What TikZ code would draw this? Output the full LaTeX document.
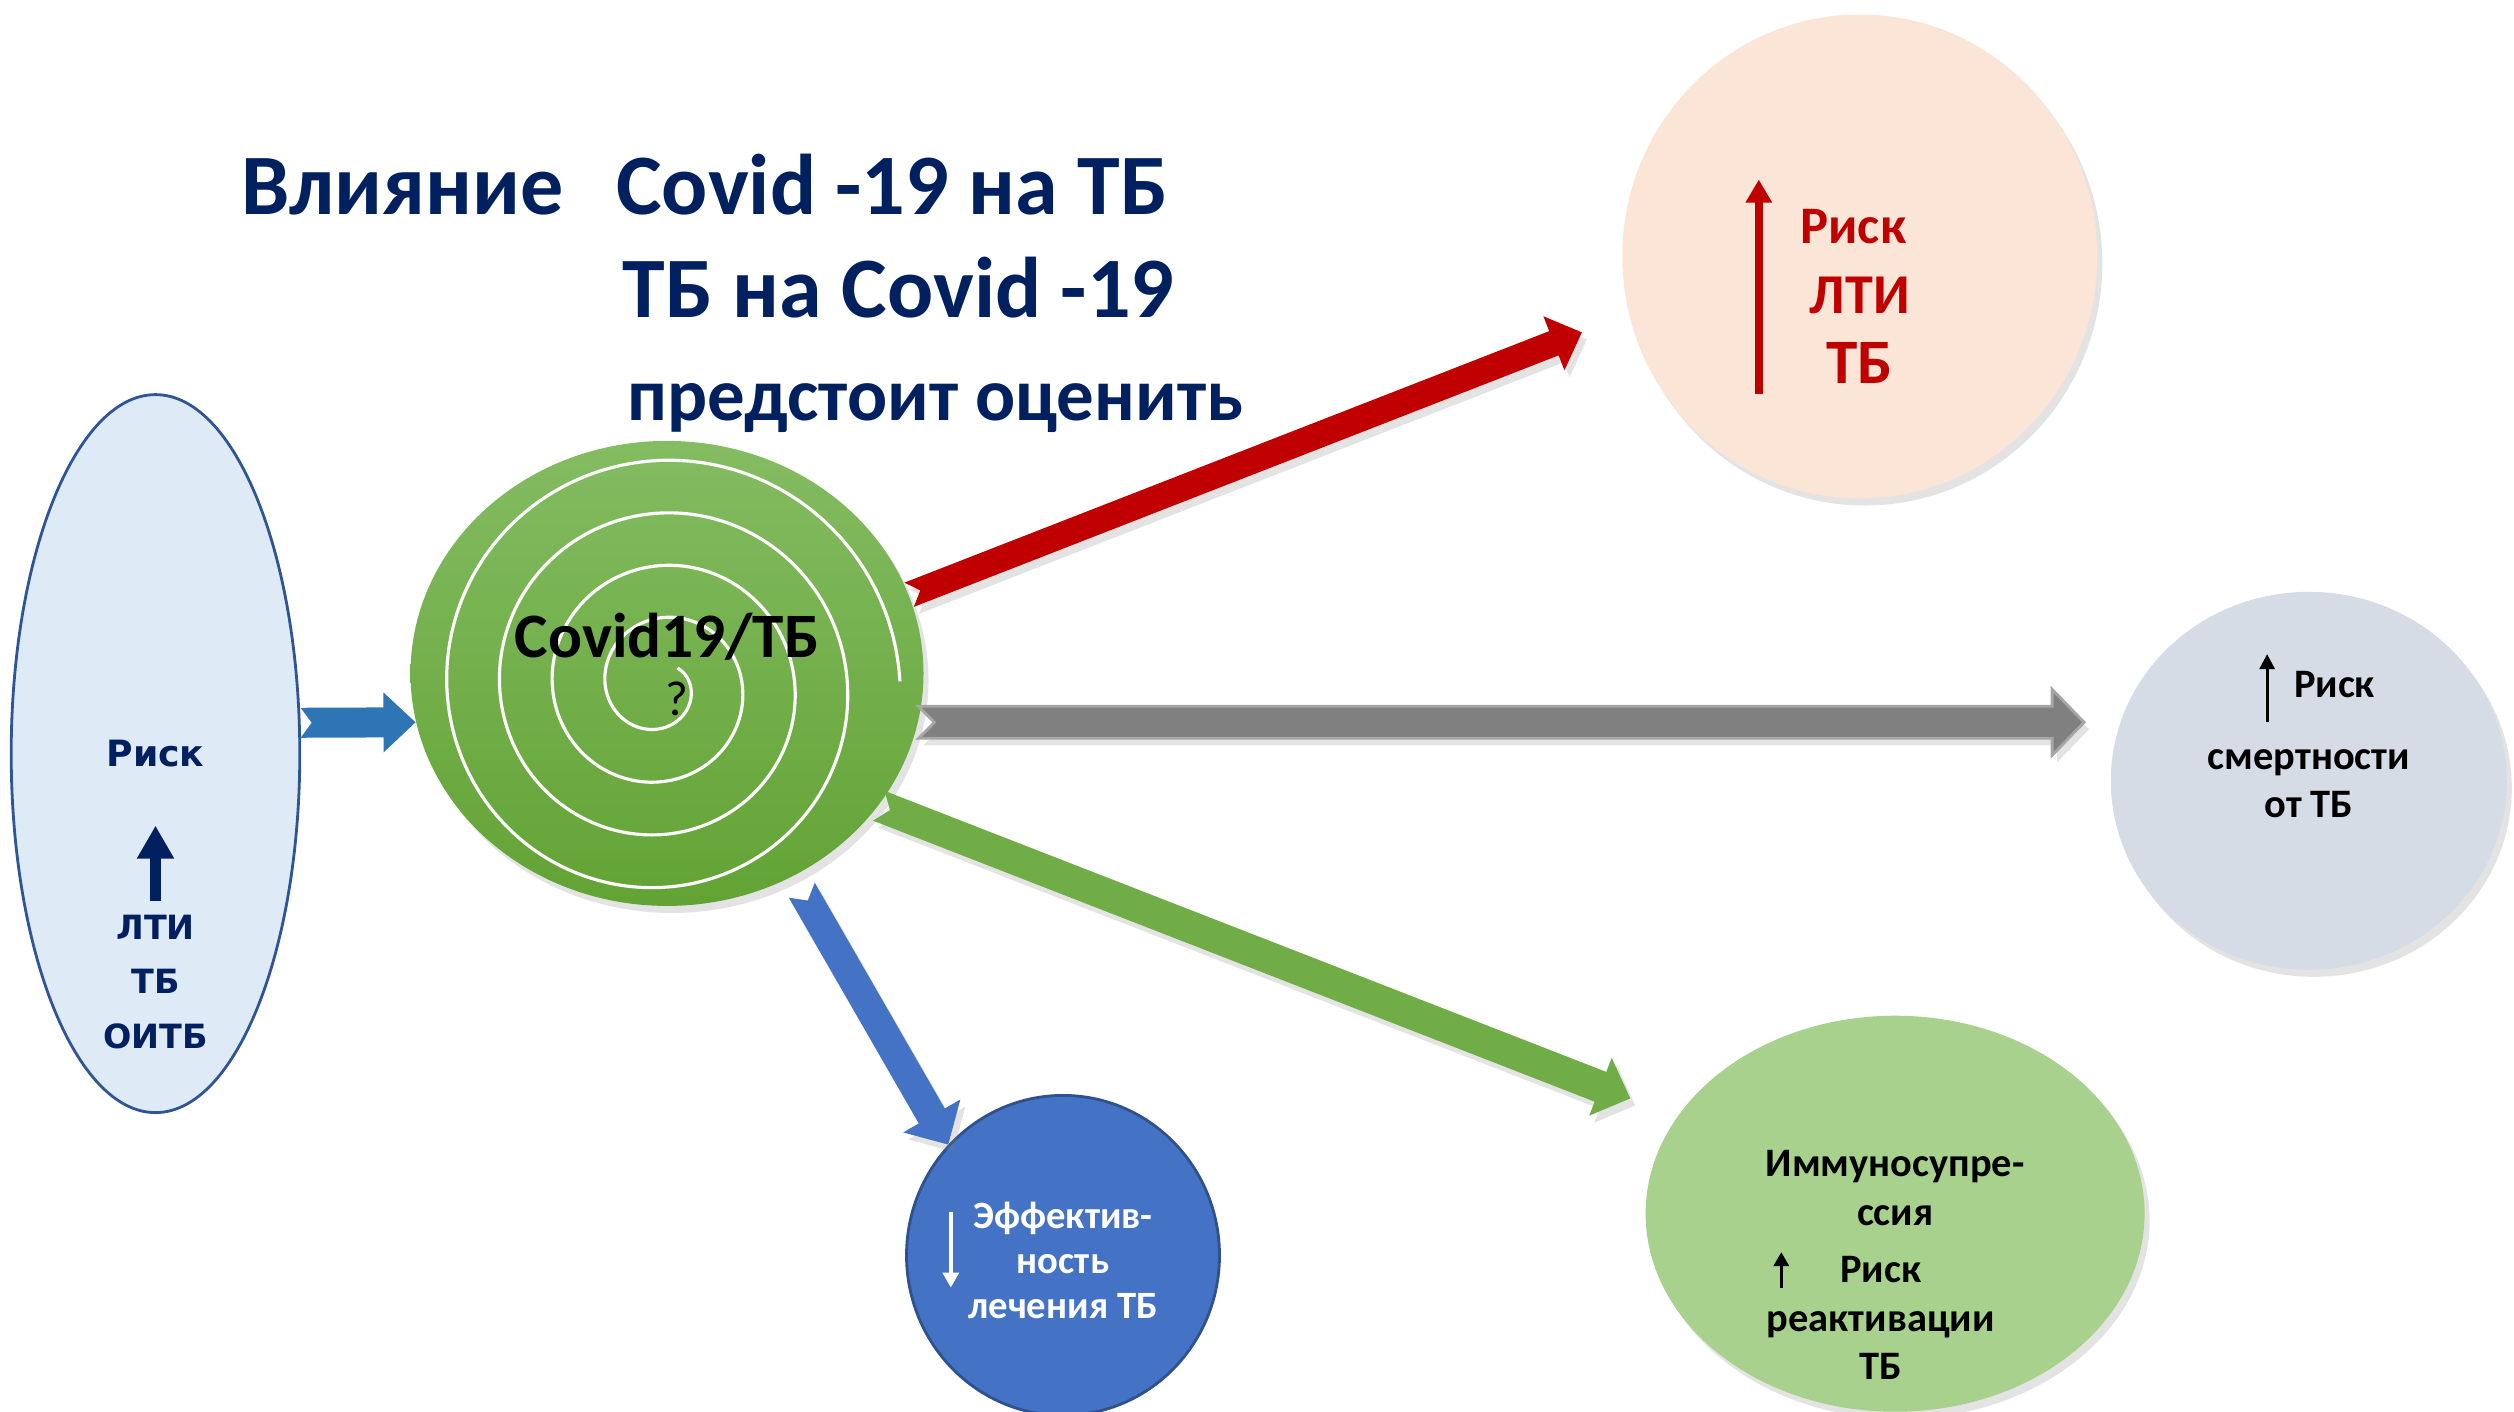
\documentclass[tikz,border=0pt]{standalone}
\usepackage{fontspec}
\setmainfont{Carlito}
\newfontfamily\verdfont{DejaVu Sans}
\usetikzlibrary{shapes.geometric,arrows.meta,positioning,calc,shadows}

\definecolor{navy}{HTML}{002060}
\definecolor{riskfill}{HTML}{DEEBF7}
\definecolor{riskdraw}{HTML}{2F5597}
\definecolor{arrblue}{HTML}{2E75B6}
\definecolor{covtop}{RGB}{132,188,98}
\definecolor{covbot}{RGB}{98,163,52}
\definecolor{darkred}{HTML}{C00000}
\definecolor{peach}{HTML}{FBE5D6}
\definecolor{greyfill}{HTML}{808080}
\definecolor{greyline}{HTML}{A6A6A6}
\definecolor{deathfill}{HTML}{D6DCE5}
\definecolor{leafgreen}{HTML}{70AD47}
\definecolor{immfill}{HTML}{A9D18E}
\definecolor{effblue}{HTML}{4472C4}
\definecolor{effdraw}{HTML}{2F528F}

\tikzstyle{soft} = [drop shadow={opacity=0.22, shadow xshift=0.05cm, shadow yshift=-0.07cm}]
\tikzstyle{riskell} = [ellipse, draw=riskdraw, fill=riskfill, line width=0.8pt,
    minimum width=2.886cm, minimum height=7.18cm, inner sep=0pt]
\tikzstyle{covidell} = [ellipse, top color=covtop, bottom color=covbot, soft,
    minimum width=5.13cm, minimum height=4.65cm, inner sep=0pt]
\tikzstyle{bubble} = [ellipse, soft, inner sep=0pt]
\tikzstyle{titletxt} = [text=navy, font=\bfseries\fontsize{24.5}{29}\selectfont, inner sep=0pt]
\tikzstyle{risktxt} = [text=navy, align=center, font=\verdfont\bfseries\fontsize{9.5}{15.5}\selectfont]
\tikzstyle{blacktxt} = [text=black, align=center, font=\bfseries\fontsize{11.5}{13.8}\selectfont]
\tikzstyle{spiral} = [white, line width=0.9pt]

% block arrow: style, tail, tip, half shaft, half head, head length, notch
\newcommand{\blockarrow}[7]{%
  \coordinate (ba-h) at ($(#3)!#6!(#2)$);
  \fill[#1] ($(#2)!#7!(#3)$) -- ($(#2)!#4!90:(#3)$) -- ($(ba-h)!#4!90:(#3)$)
    -- ($(ba-h)!#5!90:(#3)$) -- (#3) -- ($(ba-h)!#5!-90:(#3)$)
    -- ($(ba-h)!#4!-90:(#3)$) -- ($(#2)!#4!-90:(#3)$) -- cycle;}

\begin{document}
\begin{tikzpicture}[on grid]
  \useasboundingbox (0,0) rectangle (25.14,-14.11);
  % Title
  \node [titletxt, anchor=base west] (head) at (2.405,-2.148) {Влияние};
  \node [titletxt, anchor=base west] (title1) at (6.157,-2.148) {Covid -19 на ТБ};
  \node [titletxt, anchor=base west] (title2) at (6.221,-3.175) {ТБ на Covid -19};
  \node [titletxt, anchor=base west, font=\bfseries\fontsize{21.3}{26}\selectfont] (title3) at (6.269,-4.201) {предстоит оценить};
  % Place nodes
  \node [covidell] (covid) at (6.67,-6.734) {};
  \node [riskell, below left=0.802cm and 5.115cm of covid] (risk) {};
  \node [bubble, fill=peach, minimum width=4.75cm, minimum height=4.84cm,
    above right=4.169cm and 11.928cm of covid] (lti) {};
  \node [bubble, fill=deathfill, minimum width=3.96cm, minimum height=3.78cm,
    below right=1.074cm and 16.418cm of covid] (death) {};
  \node [bubble, fill=immfill, minimum width=4.99cm, minimum height=3.96cm,
    below right=5.403cm and 12.281cm of covid] (immuno) {};
  \node [ellipse, fill=effblue, draw=effdraw, line width=0.8pt, inner sep=0pt,
    minimum width=3.13cm, minimum height=3.2cm,
    below right=5.82cm and 3.96cm of covid] (eff) {};
  % Spiral
  \begin{scope}[shift={($(covid)+(-0.128,-0.08)$)}]
    \draw [spiral] plot [domain=0:1470, samples=400, smooth, variable=\s]
      ({(0.245+0.0014697*\s+0.0842*sin(\s+15))*cos(30-\s)},
       {(0.245+0.0014697*\s+0.0842*sin(\s+15))*sin(30-\s)});
  \end{scope}
  % Texts
  \node [text=black, font=\bfseries\fontsize{18}{22}\selectfont, above=0.37cm of covid] (covtxt) {Covid19/ТБ};
  \node [text=black, font=\fontsize{14}{16}\selectfont, below right=0.257cm and 0.096cm of covid] (quest) {?};
  \node [risktxt, font=\verdfont\bfseries\fontsize{10.3}{15.5}\selectfont] (risktop) at (risk) {Риск};
  \node [risktxt, below=2.28cm of risk] (risklow) {ЛТИ\\ТБ\\ОИТБ};
  \node [text=darkred, align=center, font=\bfseries\fontsize{15}{20}\selectfont,
    below=0.40cm of lti] (ltitxt) {Риск\hspace*{0.13cm}\\{\fontsize{16}{20}\selectfont ЛТИ}\\{\fontsize{18}{22}\selectfont ТБ}};
  \node [blacktxt, above right=0.962cm and 0.257cm of death] (deathrisk) {Риск};
  \node [blacktxt, below=0.03cm of death] (deathtxt) {смертности\\от ТБ};
  \node [blacktxt, above=0.257cm of immuno] (immtop) {Иммуносупре-\\ссия};
  \node [blacktxt, below left=1.042cm and 0.144cm of immuno] (immlow) {Риск\\реактивации\\ТБ};
  \node [blacktxt, text=white, font=\bfseries\fontsize{11}{12.8}\selectfont,
    below=0.048cm of eff] (efftxt) {Эффектив-\\ность\\лечения ТБ};
  % Small arrows
  \coordinate [below=1.475cm of risk] (ra0);
  \coordinate [below=0.72cm of risk] (ra1);
  \draw [navy, line width=3.1pt, -{Triangle[width=0.35cm,length=0.33cm]}] (ra0) -- (ra1);
  \coordinate [below left=1.379cm and 1.01cm of lti] (la0);
  \coordinate [above left=0.77cm and 1.01cm of lti] (la1);
  \draw [darkred, line width=2.3pt, -{Triangle[width=0.25cm,length=0.23cm]}] (la0) -- (la1);
  \coordinate [above left=0.593cm and 0.417cm of death] (da0);
  \coordinate [above left=1.267cm and 0.417cm of death] (da1);
  \draw [black, line width=0.8pt, -{Triangle[width=0.15cm,length=0.15cm]}] (da0) -- (da1);
  \coordinate [below left=0.738cm and 1.138cm of immuno] (ia0);
  \coordinate [below left=0.385cm and 1.138cm of immuno] (ia1);
  \draw [black, line width=0.7pt, -{Triangle[width=0.155cm,length=0.14cm]}] (ia0) -- (ia1);
  \coordinate [above left=0.433cm and 1.122cm of eff] (ea0);
  \coordinate [below left=0.321cm and 1.122cm of eff] (ea1);
  \draw [white, line width=1.2pt, -{Triangle[width=0.16cm,length=0.15cm]}] (ea0) -- (ea1);
  % Draw edges
  \coordinate (redtip) at ($(lti.194)!0.5cm!(covid.18)$);
  \coordinate (greytip) at ([xshift=-0.26cm]death.west |- covid.349);
  \coordinate (greentip) at ($(immuno.156)!0.5cm!(covid.328)$);
  \coordinate (bluetail) at ($(covid.302)!0.16cm!(eff.136)$);
  \blockarrow{fill=arrblue}{risk.12}{covid.191}{0.15cm}{0.30cm}{0.32cm}{0.11cm}
  \blockarrow{fill=darkred, soft}{covid.18}{redtip}{0.13cm}{0.29cm}{0.30cm}{0.12cm}
  \blockarrow{fill=greyfill, draw=greyline, line width=0.8pt, soft}{covid.349}{greytip}{0.16cm}{0.33cm}{0.32cm}{0.16cm}
  \blockarrow{fill=leafgreen, soft}{covid.328}{greentip}{0.16cm}{0.31cm}{0.32cm}{0.12cm}
  \blockarrow{fill=effblue, soft}{bluetail}{eff.136}{0.15cm}{0.33cm}{0.33cm}{0.12cm}
\end{tikzpicture}
\end{document}
